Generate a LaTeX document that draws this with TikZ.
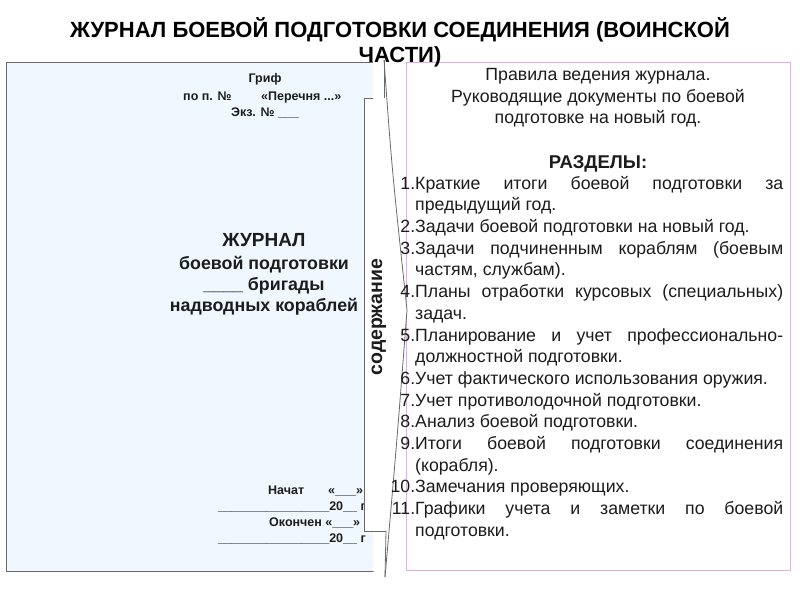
\documentclass[tikz,border=0pt]{standalone}
\usepackage{fontspec}
\setmainfont{Liberation Sans}
\definecolor{boxfill}{RGB}{240,247,254}
\definecolor{boxline}{RGB}{105,105,105}
\definecolor{pinkline}{RGB}{236,168,236}
\definecolor{txtdark}{RGB}{28,28,28}
\tikzset{
  titletxt/.style={font=\bfseries\fontsize{22}{24}\selectfont, inner sep=0pt, anchor=base, text=black},
  smalltxt/.style={font=\bfseries\fontsize{12.5}{15}\selectfont, inner sep=0pt, anchor=base, text=txtdark},
  bigtxt/.style={font=\bfseries\fontsize{17.8}{20}\selectfont, inner sep=0pt, anchor=base, text=txtdark},
  righttxt/.style={font=\fontsize{17.7}{21.7}\selectfont, inner sep=0pt, anchor=base, text=txtdark},
  tabtxt/.style={font=\bfseries\fontsize{19.5}{20}\selectfont, inner sep=0pt, rotate=90, text=txtdark},
  outline/.style={draw=boxline, line width=0.8pt},
}
\begin{document}
\begin{tikzpicture}[x=1pt,y=-1pt]
\useasboundingbox (0,0) rectangle (800,600);
\fill[white] (0,0) rectangle (800,600);
% right box
\draw[draw=pinkline, line width=0.9pt, fill=white] (406,62) rectangle (790,570);
% left journal page
\draw[outline, fill=boxfill] (6,62) rectangle (373,571);
% left texts
\node[smalltxt] (grif) at (265,82.5) {Гриф};
\node[smalltxt, anchor=base west] (pop) at (183,100.5) {по п. №};
\node[smalltxt, anchor=base west] (perech) at (261,100.5) {«Перечня ...»};
\node[smalltxt] (ekz) at (265,116.5) {Экз. № \_\_\_};
\node[bigtxt, font=\bfseries\fontsize{19}{20}\selectfont] (zhurnal) at (264,246.5) {ЖУРНАЛ};
\node[bigtxt] (boev) at (264,269) {боевой подготовки};
\node[bigtxt] (brig) at (264,290.5) {\_\_\_\_ бригады};
\node[bigtxt] (nadv) at (264,311.5) {надводных кораблей};
\node[smalltxt, anchor=base west] (nachat) at (268,494.5) {Начат};
\node[smalltxt, anchor=base west] (nachq) at (328,494.5) {«\_\_\_»};
\node[smalltxt, anchor=base east] (line1) at (366,510.5) {\_\_\_\_\_\_\_\_\_\_\_\_\_\_\_\_20\_\_ г};
\node[smalltxt, anchor=base west] (okonch) at (269,526.5) {Окончен «\_\_\_»};
\node[smalltxt, anchor=base east] (line2) at (366,542) {\_\_\_\_\_\_\_\_\_\_\_\_\_\_\_\_20\_\_ г};
% turned page strip
\fill[white] (373,62) -- (384,60) .. controls (392,170) .. (407,310) .. controls (397,440) .. (385,577) -- (373,571) -- cycle;
\draw[boxline, line width=0.8pt] (384,60) .. controls (392,170) .. (407,310) .. controls (397,440) .. (385,577);
\draw[boxline, line width=0.8pt] (384,60) -- (384,98);
% tab
\fill[white] (364,98) rectangle (386,531);
\draw[outline] (373,98) -- (364,98) -- (364,531) -- (386,531);
\draw[boxline, line width=0.8pt] (386,531) -- (385,577);
\node[tabtxt] (sod) at (379,317) {содержание};
% right texts
\node[righttxt] (r1) at (598,80.5) {Правила ведения журнала.};
\node[righttxt] (r2) at (598,102.2) {Руководящие документы по боевой};
\node[righttxt] (r3) at (598,123.9) {подготовке на новый год.};
\node[righttxt, font=\bfseries\fontsize{18.5}{21.7}\selectfont] (razd) at (598,168) {РАЗДЕЛЫ:};
\node[righttxt, anchor=north west] (list) at (415,173.8) {%
\hyphenpenalty=10000
\begin{tabular}{@{}r@{}p{368pt}@{}}
\llap{1.} & Краткие итоги боевой подготовки за\linebreak предыдущий год.\\
\llap{2.} & Задачи боевой подготовки на новый год.\\
\llap{3.} & Задачи подчиненным кораблям (боевым\linebreak частям, службам).\\
\llap{4.} & Планы отработки курсовых (специальных)\linebreak задач.\\
\llap{5.} & Планирование и учет профессионально-\linebreak должностной подготовки.\\
\llap{6.} & Учет фактического использования оружия.\\
\llap{7.} & Учет противолодочной подготовки.\\
\llap{8.} & Анализ боевой подготовки.\\
\llap{9.} & Итоги боевой подготовки соединения\linebreak (корабля).\\
\llap{10.} & Замечания проверяющих.\\
\llap{11.} & Графики учета и заметки по боевой\linebreak подготовки.
\end{tabular}};
% title
\node[titletxt] (t1) at (400,37) {ЖУРНАЛ БОЕВОЙ ПОДГОТОВКИ СОЕДИНЕНИЯ (ВОИНСКОЙ};
\node[titletxt] (t2) at (400,62) {ЧАСТИ)};
\end{tikzpicture}
\end{document}
